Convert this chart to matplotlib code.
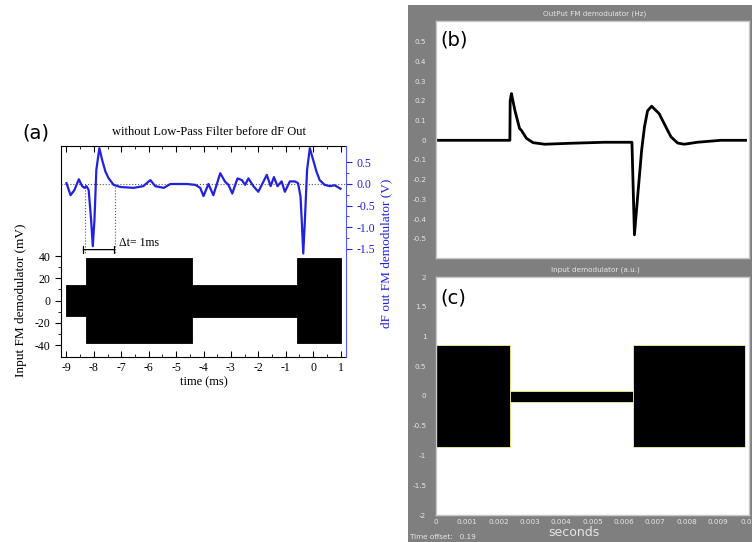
import matplotlib
matplotlib.use("Agg")
import matplotlib.pyplot as plt
from matplotlib.patches import Rectangle

plt.rcParams["axes.unicode_minus"] = False

# ---------------- data: panel (a) ----------------
burst_edges = [-9.0, -8.27, -4.42, -0.6, 1.0]
burst_top = [14.0, 38.2, 14.0, 38.0]
burst_bottom = [-13.8, -38.4, -14.4, -38.6]

trace_t = [-9.0, -8.85, -8.71, -8.55, -8.43, -8.34, -8.27, -8.19, -8.10, -8.04,
           -7.98, -7.91, -7.80, -7.70, -7.58, -7.46, -7.28, -7.03, -6.55, -6.2,
           -5.94, -5.76, -5.45, -5.21, -4.6, -4.3, -4.12, -4.0, -3.82, -3.64,
           -3.39, -3.21, -3.09, -2.95, -2.76, -2.6, -2.48, -2.36, -2.18, -2.0,
           -1.69, -1.55, -1.43, -1.30, -1.15, -1.03, -0.85, -0.67, -0.55, -0.46,
           -0.41, -0.36, -0.30, -0.22, -0.12, 0.0, 0.12, 0.24, 0.42, 0.61,
           0.79, 1.0]
trace_v = [0.02, -0.26, -0.14, 0.11, -0.05, -0.09, -0.05, -0.14, -0.84, -1.44,
           -0.84, 0.33, 0.83, 0.56, 0.29, 0.13, -0.02, -0.07, -0.09, -0.05,
           0.09, -0.05, -0.09, 0.0, 0.0, -0.02, -0.09, -0.28, 0.0, -0.26,
           0.25, 0.05, -0.02, -0.22, 0.13, 0.09, -0.02, 0.13, -0.05, -0.18,
           0.21, -0.05, 0.16, -0.05, 0.06, -0.18, 0.06, 0.06, 0.02, -0.29,
           -0.91, -1.61, -0.84, 0.33, 0.83, 0.56, 0.29, 0.09, -0.02, -0.05,
           -0.03, -0.11]

dt_marks = [-8.31, -7.24]
dt_arrow = [-8.49, -7.15]
dt_text = "\u0394t= 1ms"

x_ticks_a = [-9, -8, -7, -6, -5, -4, -3, -2, -1, 0, 1]
left_ticks_a = [-40, -20, 0, 20, 40]
right_ticks_a = [-1.5, -1.0, -0.5, 0.0, 0.5]

# ---------------- data: panel (b) ----------------
out_t = [0.00007, 0.00236, 0.00237, 0.00241, 0.00252, 0.00267, 0.00273, 0.00289,
         0.00310, 0.00347, 0.00432, 0.00538, 0.00626, 0.00634, 0.00644, 0.00657,
         0.00666, 0.00676, 0.00689, 0.00713, 0.00740, 0.00751, 0.00772, 0.00793,
         0.00835, 0.00910, 0.00989]
out_v = [0.0, 0.0, 0.20, 0.237, 0.152, 0.06, 0.05, 0.01,
         -0.012, -0.02, -0.015, -0.01, -0.01, -0.48, -0.29, -0.05,
         0.068, 0.15, 0.173, 0.135, 0.05, 0.017, -0.014, -0.02,
         -0.01, 0.0, 0.0]
b_yticks = [-0.5, -0.4, -0.3, -0.2, -0.1, 0, 0.1, 0.2, 0.3, 0.4, 0.5]
b_yticklabels = ["-0.5", "-0.4", "-0.3", "-0.2", "-0.1", "0", "0.1", "0.2", "0.3", "0.4", "0.5"]

# ---------------- data: panel (c) ----------------
inp_edges = [0.0, 0.00237, 0.00628, 0.00986]
inp_top = [0.86, 0.08, 0.86]
inp_bottom = [-0.86, -0.10, -0.86]
c_yticks = [-2, -1.5, -1, -0.5, 0, 0.5, 1, 1.5, 2]
c_yticklabels = ["-2", "-1.5", "-1", "-0.5", "0", "0.5", "1", "1.5", "2"]
c_xticks = [0, 0.001, 0.002, 0.003, 0.004, 0.005, 0.006, 0.007, 0.008, 0.009, 0.01]
c_xticklabels = ["0", "0.001", "0.002", "0.003", "0.004", "0.005", "0.006",
                 "0.007", "0.008", "0.009", "0.01"]

W, H = 752, 542
fig = plt.figure(figsize=(W / 100, H / 100), dpi=100)
fig.patch.set_facecolor("white")

SERIF = ["Liberation Serif", "DejaVu Serif"]
BLUE = "#2222dd"

def fx(px):
    return px / W

def fy(py):
    return 1 - py / H

# ================= gray window background =================
GRAY = "#7f7f7f"
LIGHT = "#e6e6e6"
bg = fig.add_axes([fx(408), 0, 1 - fx(408), fy(5)])
bg.set_zorder(-5)
bg.set_facecolor(GRAY)
bg.set_xticks([])
bg.set_yticks([])
for s in bg.spines.values():
    s.set_visible(False)

# ================= panel (a) =================
ax = fig.add_axes([fx(61), fy(356.7), fx(346 - 61), (356.7 - 146) / H])
ax.set_xlim(-9.2, 1.2)
ax.set_ylim(-50.5, 139)
for i in range(len(burst_top)):
    ax.fill_between([burst_edges[i], burst_edges[i + 1]],
                    [burst_bottom[i]] * 2, [burst_top[i]] * 2,
                    color="black", linewidth=0.6, edgecolor="black")
ax.set_xticks(x_ticks_a)
ax.set_xticks([t + 0.5 for t in x_ticks_a[:-1]], minor=True)
ax.set_yticks(left_ticks_a)
ax.set_yticks([-30, -10, 10, 30], minor=True)
ax.tick_params(axis="x", which="both", direction="in", top=True, labelsize=8.5)
ax.tick_params(axis="x", which="major", length=4)
ax.tick_params(axis="x", which="minor", length=2)
ax.tick_params(axis="y", which="major", direction="out", length=4, labelsize=8.5)
ax.tick_params(axis="y", which="minor", direction="out", length=2)
for lab in ax.get_xticklabels() + ax.get_yticklabels():
    lab.set_family(SERIF)
ax.set_xlabel("time (ms)", family=SERIF, fontsize=9, labelpad=2)
ax.spines["right"].set_visible(False)

ax2 = ax.twinx()
ax2.set_ylim(-4.0, 0.88)
ax2.set_xlim(-9.2, 1.2)
ax2.axhline(0.0, color="#555555", linestyle=":", linewidth=0.8)
for m in dt_marks:
    ax2.plot([m, m], [0.0, -1.6], color="#555555", linestyle=":", linewidth=0.8)
ax2.plot(trace_t, trace_v, color=BLUE, linewidth=1.6)
ax2.annotate("", xy=(dt_arrow[1], -1.52), xytext=(dt_arrow[0], -1.52),
             arrowprops=dict(arrowstyle="|-|,widthA=0.25,widthB=0.25",
                             color="black", linewidth=0.9))
ax2.text(dt_arrow[1] + 0.05, -1.5, dt_text, family=SERIF, fontsize=8.5,
         ha="left", va="bottom")
ax2.set_yticks(right_ticks_a)
ax2.set_yticks([-1.25, -0.75, -0.25, 0.25], minor=True)
ax2.tick_params(axis="y", which="major", direction="out", length=4,
                colors=BLUE, labelsize=8.5, labelcolor=BLUE)
ax2.tick_params(axis="y", which="minor", direction="out", length=2, colors=BLUE)
for lab in ax2.get_yticklabels():
    lab.set_family(SERIF)
for s in ["left", "top", "bottom"]:
    ax2.spines[s].set_visible(False)
ax2.spines["right"].set_color("#5555ff")

fig.text(fx(209), fy(131.7), "without Low-Pass Filter before dF Out",
         family=SERIF, fontsize=9, ha="center", va="center")
fig.text(fx(21), fy(300), "Input FM demodulator (mV)", family=SERIF,
         fontsize=9.5, rotation=90, ha="center", va="center")
fig.text(fx(386), fy(253), "dF out FM demodulator (V)", family=SERIF,
         fontsize=9.5, rotation=90, ha="center", va="center", color=BLUE)
fig.text(fx(22), fy(133), "(a)", fontsize=14, ha="left", va="center",
         family="DejaVu Sans")

# ================= panels (b),(c) =================
def style_window_axes(a):
    a.set_facecolor("white")
    for s in a.spines.values():
        s.set_color("#c8c8c8")
        s.set_linewidth(1.0)
    a.tick_params(axis="both", length=0, labelsize=5.2, labelcolor=LIGHT, pad=7)

axb = fig.add_axes([fx(436), fy(258.5), fx(749 - 436), (258.5 - 20.7) / H])
style_window_axes(axb)
axb.set_xlim(0, 0.01)
axb.set_ylim(-0.6, 0.607)
axb.plot(out_t, out_v, color="black", linewidth=2.0)
axb.set_yticks(b_yticks)
axb.set_yticklabels(b_yticklabels)
axb.set_xticks([])
fig.text(fx(595), fy(14), "OutPut FM demodulator (Hz)", fontsize=5.2,
         color=LIGHT, ha="center", va="center")
fig.text(fx(440), fy(40), "(b)", fontsize=14, ha="left", va="center",
         family="DejaVu Sans")

axc = fig.add_axes([fx(436), fy(515), fx(749 - 436), (515 - 277) / H])
style_window_axes(axc)
axc.set_xlim(0, 0.01)
axc.set_ylim(-2, 2)
for i in range(len(inp_top)):
    axc.fill_between([inp_edges[i], inp_edges[i + 1]],
                     [inp_bottom[i]] * 2, [inp_top[i]] * 2,
                     facecolor="black", edgecolor="#f5f08a", linewidth=0.6)
axc.set_yticks(c_yticks)
axc.set_yticklabels(c_yticklabels)
axc.set_xticks(c_xticks)
axc.set_xticklabels(c_xticklabels)
axc.tick_params(axis="x", pad=3)
fig.text(fx(595), fy(270), "Input demodulator (a.u.)", fontsize=5.2,
         color=LIGHT, ha="center", va="center")
fig.text(fx(440), fy(298), "(c)", fontsize=14, ha="left", va="center",
         family="DejaVu Sans")
fig.text(fx(574), fy(533), "seconds", fontsize=9, color=LIGHT,
         ha="center", va="center")
fig.text(fx(410), fy(537), "Time offset:   0.19", fontsize=5.2, color=LIGHT,
         ha="left", va="center")

fig.savefig("out.png", dpi=100)
